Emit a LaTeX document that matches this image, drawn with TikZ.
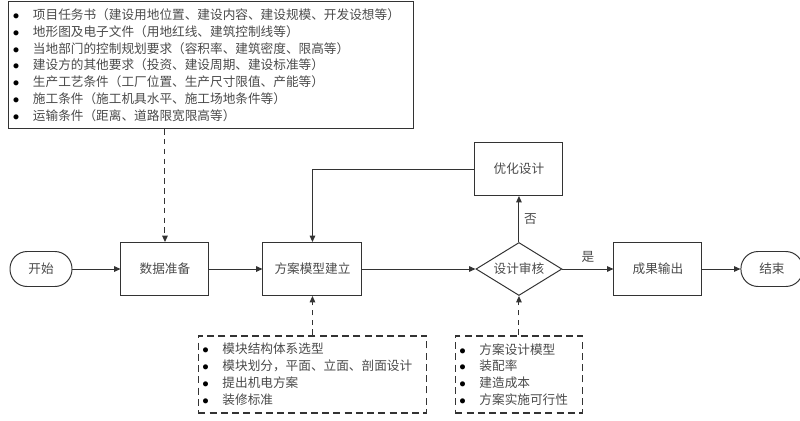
\documentclass[tikz,border=0pt]{standalone}
\usepackage{fontspec}
\setmainfont{Noto Sans CJK SC}
\usepackage{xcolor}
\usepackage{tikz}
\usetikzlibrary{arrows.meta,positioning,shapes}
\definecolor{linegray}{HTML}{333333}
\definecolor{textgray}{HTML}{4A4A4A}
\newcommand{\bul}{\makebox[5mm][l]{\color{black}$\bullet$}}

\begin{document}
\begin{tikzpicture}[
  font=\fontsize{9pt}{11.9pt}\selectfont,
  text=textgray,
  proc/.style={draw=linegray, line width=0.7pt, minimum width=22mm,
               minimum height=13.25mm},
  term/.style={draw=linegray, line width=0.7pt, rounded corners=4.3mm,
               minimum width=15.5mm, minimum height=8.75mm},
  decide/.style={draw=linegray, line width=0.7pt, diamond, aspect=1.6,
                 inner sep=0pt, minimum width=21.5mm, minimum height=13.25mm},
  infobox/.style={draw=linegray, line width=0.7pt, align=left, inner sep=1mm,
                  text width=99.25mm, minimum height=31.75mm},
  note/.style={draw=linegray, line width=1.1pt, dash pattern=on 5pt off 3pt,
               align=left, inner sep=1mm, minimum height=19.25mm},
  arrow/.style={-{Triangle[length=1.6mm,width=1.4mm]}, line width=0.7pt, draw=linegray},
  dasharrow/.style={arrow, dash pattern=on 4pt off 3pt}
]
\useasboundingbox (0,0) rectangle (200mm,-105mm);
% main flow
\node[term] (start) at (10.25mm,-67.25mm) {开始};
\node[proc, right=12mm of start] (data) {数据准备};
\node[proc, minimum width=24.75mm, right=13.25mm of data] (model) {方案模型建立};
\node[decide, right=28.25mm of model] (check) {设计审核};
\node[proc, right=12.75mm of check] (output) {成果输出};
\node[term, right=9.5mm of output] (end) {结束};
\node[proc, above=11.5mm of check] (optim) {优化设计};
% notes
\node[infobox, above=28.25mm of data, xshift=11.625mm] (input) {%
\bul 项目任务书（建设用地位置、建设内容、建设规模、开发设想等）\\
\bul 地形图及电子文件（用地红线、建筑控制线等）\\
\bul 当地部门的控制规划要求（容积率、建筑密度、限高等）\\
\bul 建设方的其他要求（投资、建设周期、建设标准等）\\
\bul 生产工艺条件（工厂位置、生产尺寸限值、产能等）\\
\bul 施工条件（施工机具水平、施工场地条件等）\\
\bul 运输条件（距离、道路限宽限高等）};
\node[note, text width=55mm, below=9.75mm of model] (modules) {%
\bul 模块结构体系选型\\
\bul 模块划分，平面、立面、剖面设计\\
\bul 提出机电方案\\
\bul 装修标准};
\node[note, text width=29.75mm, below=9.75mm of check] (criteria) {%
\bul 方案设计模型\\
\bul 装配率\\
\bul 建造成本\\
\bul 方案实施可行性};
% connectors
\draw[arrow] (start) -- (data);
\draw[arrow] (data) -- (model);
\draw[arrow] (model) -- (check);
\draw[arrow] (check) -- node[above, yshift=1pt] {是} (output);
\draw[arrow] (output) -- (end);
\draw[arrow] (check) -- node[right] {否} (optim);
\draw[arrow] (optim.west) -| (model.north);
\draw[dasharrow] (input.south -| data.north) -- (data.north);
\draw[dasharrow] (modules) -- (model);
\draw[dasharrow] (criteria) -- (check);
\end{tikzpicture}
\end{document}
